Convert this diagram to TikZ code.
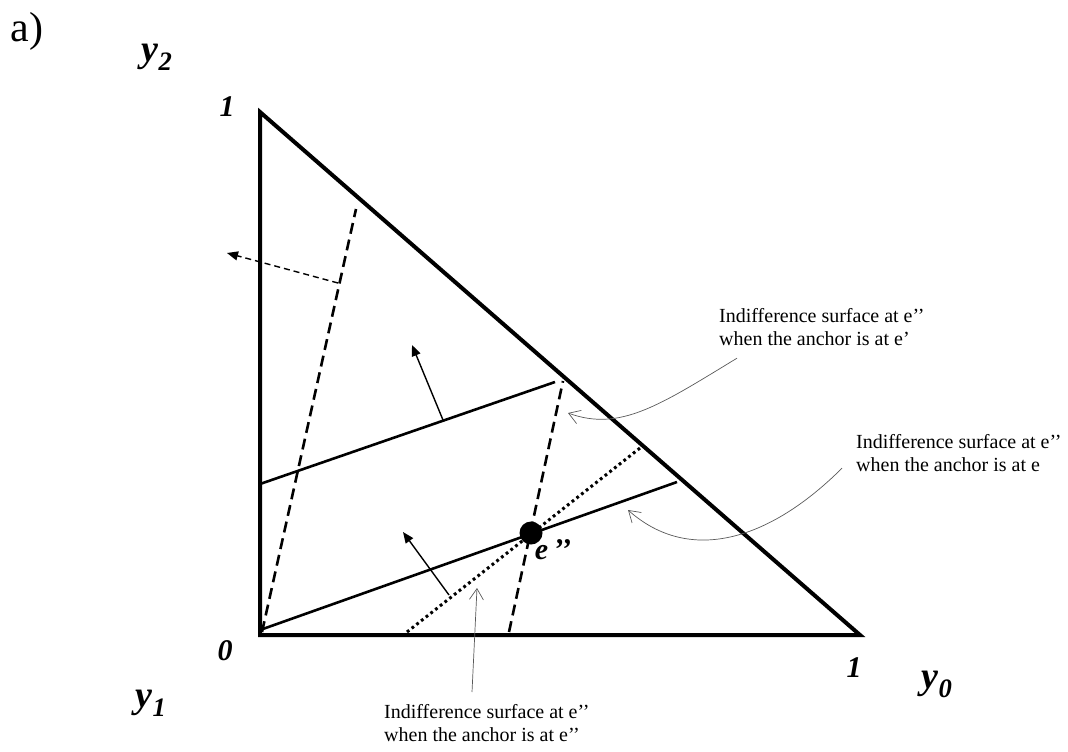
\documentclass[tikz,border=0pt]{standalone}
\usepackage{fontspec}
\setmainfont{Liberation Serif}
\usetikzlibrary{arrows.meta,calc}

\begin{document}
\begin{tikzpicture}[x=1pt,y=-1pt,
    axislabel/.style={font=\fontsize{38}{40}\selectfont\bfseries\itshape, inner sep=0pt},
    cornerlabel/.style={font=\fontsize{30}{32}\selectfont\bfseries\itshape, inner sep=0pt},
    note/.style={font=\fontsize{20}{23.5}\selectfont, align=left, inner sep=0pt, anchor=north west},
    surface/.style={line width=2.6pt},
    dashsurface/.style={surface, dash pattern=on 11pt off 6pt},
    dotsurface/.style={line width=3pt, dash pattern=on 2.8pt off 3.2pt},
    normalarrow/.style={line width=1.4pt, -{Triangle[length=11pt,width=9pt]}},
    callout/.style={black!65, line width=0.7pt, -{Straight Barb[length=11pt,width=14pt]}}]
\useasboundingbox (0,0) rectangle (1068,752);

% Corners of the simplex
\coordinate (O) at (260,635);
\coordinate (T) at (260,112);
\coordinate (R) at (860,635);

% Draw simplex
\draw[line width=4pt, line join=miter] (O) -- (T) -- (R) -- cycle;

% Indifference surfaces (dashed: anchor at e')
\coordinate (d1a) at (262,632);
\coordinate (d1b) at (356,209);
\coordinate (d2a) at (509,632);
\coordinate (d2b) at (563,381);
\draw[dashsurface] (d1a) -- (d1b);
\draw[dashsurface] (d2a) -- (d2b);

% Indifference surfaces (solid: anchor at e)
\coordinate (s1a) at (260,484);
\coordinate (s1b) at (555,382);
\coordinate (s2a) at (260,630);
\coordinate (s2b) at (677,482);
\draw[surface] (s1a) -- (s1b);
\draw[surface] (s2a) -- (s2b);

% Indifference surface (dotted: anchor at e'')
\coordinate (p1a) at (407,632);
\coordinate (p1b) at (640,448);
\draw[dotsurface] (p1a) -- (p1b);

% Directions of improvement
\coordinate (a1) at (338,283);
\coordinate (a1e) at (227,253);
\draw[normalarrow, dash pattern=on 6pt off 4pt] (a1) -- (a1e);
\foreach \i/\x/\y/\ex/\ey in {2/443/420/412/345, 3/449/595/403/532} {
    \coordinate (a\i) at (\x,\y);
    \coordinate (a\i e) at (\ex,\ey);
    \draw[normalarrow] (a\i) -- (a\i e);
}

% Point e''
\fill (531,533) circle (11.5);
\node[cornerlabel] (elbl) at (553,550) {e\,’’};

% Axis and corner labels
\node[font=\fontsize{42}{44}\selectfont, inner sep=0pt] (alabel) at (27,31) {a)};
\node[axislabel] (y2) at (157,57) {y\textsubscript{2}};
\node[axislabel] (y1) at (151,703) {y\textsubscript{1}};
\node[axislabel] (y0) at (937,684) {y\textsubscript{0}};
\node[cornerlabel] (one2) at (227,107) {1};
\node[cornerlabel] (zero) at (225,651) {0};
\node[cornerlabel] (one0) at (854,668) {1};

% Notes with callouts
\node[note] (note1) at (719,308) {Indifference surface at e’’\\when the anchor is at e’};
\node[note] (note2) at (856,434) {Indifference surface at e’’\\when the anchor is at e};
\node[note] (note3) at (384,704) {Indifference surface at e’’\\when the anchor is at e’’};
\coordinate (t1) at (568,413);
\coordinate (t2) at (628,510);
\coordinate (t3) at (477,588);
\draw[callout] ($(note1.south west)+(18,12)$) .. controls (660,405) and (620,432) .. (t1);
\draw[callout] ($(note2.south west)+(-14,-4)$) .. controls (770,540) and (690,565) .. (t2);
\draw[callout] ($(note3.north west)+(88,-12)$) -- (t3);

\end{tikzpicture}
\end{document}
